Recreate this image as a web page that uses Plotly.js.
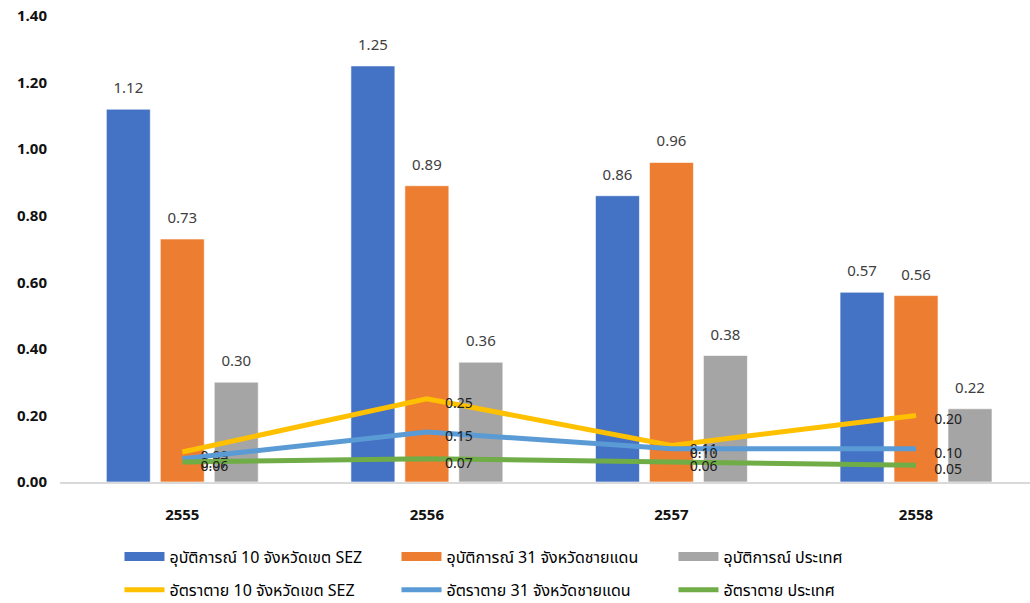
<!DOCTYPE html>
<html>
<head>
<meta charset="utf-8">
<script src="https://cdn.plot.ly/plotly-3.0.1.min.js"></script>
<style>
  html, body { margin: 0; padding: 0; background: #fff; overflow: hidden; }
  #chart { width: 1030px; height: 603px; }
</style>
</head>
<body>
<div id="chart"></div>
<script>
// Years (Thai Buddhist calendar)
const years = ['2555', '2556', '2557', '2558'];

// Accident counts (bars)
const accSEZ = [1.12, 1.25, 0.86, 0.57];
const accBorder = [0.73, 0.89, 0.96, 0.56];
const accNation = [0.30, 0.36, 0.38, 0.22];

// Death rates (lines)
const deathSEZ = [0.09, 0.25, 0.11, 0.20];
const deathBorder = [0.07, 0.15, 0.10, 0.10];
const deathNation = [0.06, 0.07, 0.06, 0.05];

const barNames = ['อุบัติการณ์ 10 จังหวัดเขต SEZ', 'อุบัติการณ์ 31 จังหวัดชายแดน', 'อุบัติการณ์ ประเทศ'];
const lineNames = ['อัตราตาย 10 จังหวัดเขต SEZ', 'อัตราตาย 31 จังหวัดชายแดน', 'อัตราตาย ประเทศ'];
const barColors = ['#4472C4', '#ED7D31', '#A5A5A5'];
const lineColors = ['#FFC000', '#5B9BD5', '#70AD47'];

const FONT = 'Tahoma, "Noto Sans Thai", "Leelawadee UI", "DejaVu Sans", "Noto Sans", sans-serif';
const NBSP = '\u00a0';
const PAD = NBSP.repeat(5);
const TINY = '<span style="font-size:1px">' + NBSP + '</span>';

const idx = years.map((_, i) => i);
const fmt = v => v.toFixed(2);

const traces = [];

// Bars: value label above each bar; the small base font sets the line gap,
// and a tiny empty second line lifts the value off the bar top
[accSEZ, accBorder, accNation].forEach((vals, k) => {
  traces.push({
    type: 'bar',
    x: idx,
    y: vals,
    name: barNames[k],
    showlegend: false,
    legendgroup: 'b' + k,
    marker: { color: barColors[k], line: { color: 'rgba(255,255,255,0.6)', width: 1 } },
    text: vals.map(v => '<span style="font-size:15px">' + fmt(v) + '</span><br>' + TINY),
    textposition: 'outside',
    constraintext: 'none',
    cliponaxis: false,
    textfont: { family: FONT, size: 10, color: '#404040' },
    hoverinfo: 'skip'
  });
});

// Lines: value label to the right of each point, nudged slightly below it
[deathSEZ, deathBorder, deathNation].forEach((vals, k) => {
  traces.push({
    type: 'scatter',
    mode: 'lines+text',
    x: idx,
    y: vals,
    name: lineNames[k],
    legend: 'legend2',
    line: { color: lineColors[k], width: 5 },
    text: vals.map(v => TINY + '<br><span style="font-size:14px">' + PAD + fmt(v) + '</span>'),
    textposition: 'middle right',
    cliponaxis: false,
    textfont: { family: FONT, size: 10, color: '#202020' },
    hoverinfo: 'skip'
  });
});

// Legend swatches for the bar series (wide rectangles)
barNames.forEach((nm, k) => {
  traces.push({
    type: 'scatter',
    mode: 'lines',
    x: [null],
    y: [null],
    name: nm,
    legendgroup: 'b' + k,
    legend: 'legend',
    line: { color: barColors[k], width: 9 },
    hoverinfo: 'skip'
  });
});

const legendCommon = {
  orientation: 'h',
  xref: 'container',
  yref: 'container',
  xanchor: 'left',
  yanchor: 'middle',
  x: 0.116,
  entrywidth: 222,
  entrywidthmode: 'pixels',
  itemwidth: 40,
  font: { family: FONT, size: 16, color: '#000' },
  bgcolor: 'rgba(0,0,0,0)',
  traceorder: 'normal'
};

const layout = {
  width: 1030,
  height: 603,
  margin: { l: 60, r: 0, t: 16, b: 121 },
  paper_bgcolor: '#fff',
  plot_bgcolor: '#fff',
  barmode: 'group',
  bargap: 0.338,
  bargroupgap: 0.185,
  showlegend: true,
  xaxis: {
    type: 'linear',
    range: [-0.5, 3.466],
    tickvals: idx,
    ticktext: years,
    showgrid: false,
    zeroline: false,
    showline: true,
    linecolor: '#D9D9D9',
    linewidth: 2,
    ticks: '',
    ticklabelstandoff: 18,
    tickfont: { family: FONT, size: 15, color: '#111', weight: 'bold' }
  },
  yaxis: {
    range: [0, 1.4],
    tickvals: [0, 0.2, 0.4, 0.6, 0.8, 1.0, 1.2, 1.4],
    tickformat: '.2f',
    showgrid: false,
    zeroline: false,
    showline: false,
    ticks: '',
    ticklabelstandoff: 12,
    tickfont: { family: FONT, size: 15, color: '#111', weight: 'bold' }
  },
  legend: Object.assign({}, legendCommon, { y: 0.077 }),
  legend2: Object.assign({}, legendCommon, { y: 0.022 })
};

Plotly.newPlot('chart', traces, layout, { staticPlot: true, displayModeBar: false });
</script>
</body>
</html>
